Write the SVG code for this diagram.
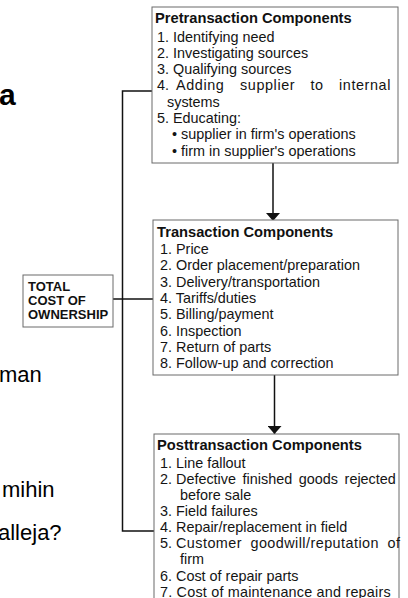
<svg xmlns="http://www.w3.org/2000/svg" width="408" height="598" viewBox="0 0 408 598">
<defs>
<style>
.box{fill:#fff;stroke:#6a6a6a;stroke-width:1}
.t{font-family:"Liberation Sans",Arial,Helvetica,sans-serif;font-size:14.4px;fill:#141414}
.h{font-family:"Liberation Sans",Arial,Helvetica,sans-serif;font-size:14.7px;font-weight:bold;fill:#111}
.tb{font-family:"Liberation Sans",Arial,Helvetica,sans-serif;font-size:13px;font-weight:bold;fill:#111}
.side{font-family:"Liberation Sans",Arial,Helvetica,sans-serif;font-size:22px;fill:#000}
.ln{fill:none;stroke:#111;stroke-width:1.5}
</style>
<marker id="arr" viewBox="0 0 8 14" refX="8" refY="7" markerWidth="8" markerHeight="14" markerUnits="userSpaceOnUse" orient="auto-start-reverse">
<path d="M0,0 L8,7 L0,14 Z" fill="#111"/>
</marker>
</defs>
<rect width="408" height="598" fill="#fff"/>

<g id="side-text">
<text x="-1" y="105" style="font-family:'Liberation Sans',Arial,sans-serif;font-size:30px;font-weight:bold">a</text>
<text class="side" x="-1" y="382">man</text>
<text class="side" x="2" y="497">mihin</text>
<text class="side" x="-2" y="540">alleja?</text>
</g>

<g id="connectors">
<polyline class="ln" points="152,91 122.5,91 122.5,531 154,531"/>
<line class="ln" x1="113" y1="299" x2="153" y2="299"/>
<line class="ln" x1="273" y1="163" x2="273" y2="221" marker-end="url(#arr)"/>
<line class="ln" x1="274.5" y1="375" x2="274.5" y2="434" marker-end="url(#arr)"/>
</g>

<g id="pretransaction">
<rect class="box" x="152" y="7" width="246" height="156"/>
<text class="h" x="155" y="23">Pretransaction Components</text>
<text class="t" x="157" y="41.5">1. Identifying need</text>
<text class="t" x="157" y="57.8">2. Investigating sources</text>
<text class="t" x="157" y="74.1">3. Qualifying sources</text>
<text class="t" y="90.4"><tspan x="157">4.</tspan><tspan x="176" letter-spacing="0.6">Adding</tspan><tspan x="240" letter-spacing="0.6">supplier</tspan><tspan x="310.5" letter-spacing="0.6">to</tspan><tspan x="339" letter-spacing="0.6">internal</tspan></text>
<text class="t" x="167" y="106.7">systems</text>
<text class="t" x="157" y="123">5. Educating:</text>
<text class="t" x="172" y="139.3">• supplier in firm's operations</text>
<text class="t" x="172" y="155.6">• firm in supplier's operations</text>
</g>

<g id="transaction">
<rect class="box" x="153" y="220" width="245" height="155"/>
<text class="h" x="157" y="237">Transaction Components</text>
<text class="t" x="160" y="254">1. Price</text>
<text class="t" x="160" y="270.3">2. Order placement/preparation</text>
<text class="t" x="160" y="286.6">3. Delivery/transportation</text>
<text class="t" x="160" y="302.9">4. Tariffs/duties</text>
<text class="t" x="160" y="319.2">5. Billing/payment</text>
<text class="t" x="160" y="335.5">6. Inspection</text>
<text class="t" x="160" y="351.8">7. Return of parts</text>
<text class="t" x="160" y="368.1">8. Follow-up and correction</text>
</g>

<g id="total-cost">
<rect class="box" x="23" y="275" width="90" height="52"/>
<text class="tb" x="28" y="291">TOTAL</text>
<text class="tb" x="28" y="305">COST OF</text>
<text class="tb" x="28" y="318.5">OWNERSHIP</text>
</g>

<g id="posttransaction">
<rect class="box" x="154" y="434" width="245" height="175"/>
<text class="h" x="157" y="450">Posttransaction Components</text>
<text class="t" x="160" y="468">1. Line fallout</text>
<text class="t" y="484"><tspan x="160">2.</tspan><tspan x="176" word-spacing="2.6">Defective finished goods rejected</tspan></text>
<text class="t" x="180" y="500">before sale</text>
<text class="t" x="160" y="516">3. Field failures</text>
<text class="t" x="160" y="532">4. Repair/replacement in field</text>
<text class="t" y="548.3"><tspan x="160">5.</tspan><tspan x="176" letter-spacing="0.45" word-spacing="4">Customer goodwill/reputation of</tspan></text>
<text class="t" x="180" y="564.4">firm</text>
<text class="t" x="160" y="580.5">6. Cost of repair parts</text>
<text class="t" x="160" y="596.6" letter-spacing="0.2">7. Cost of maintenance and repairs</text>
</g>
</svg>
